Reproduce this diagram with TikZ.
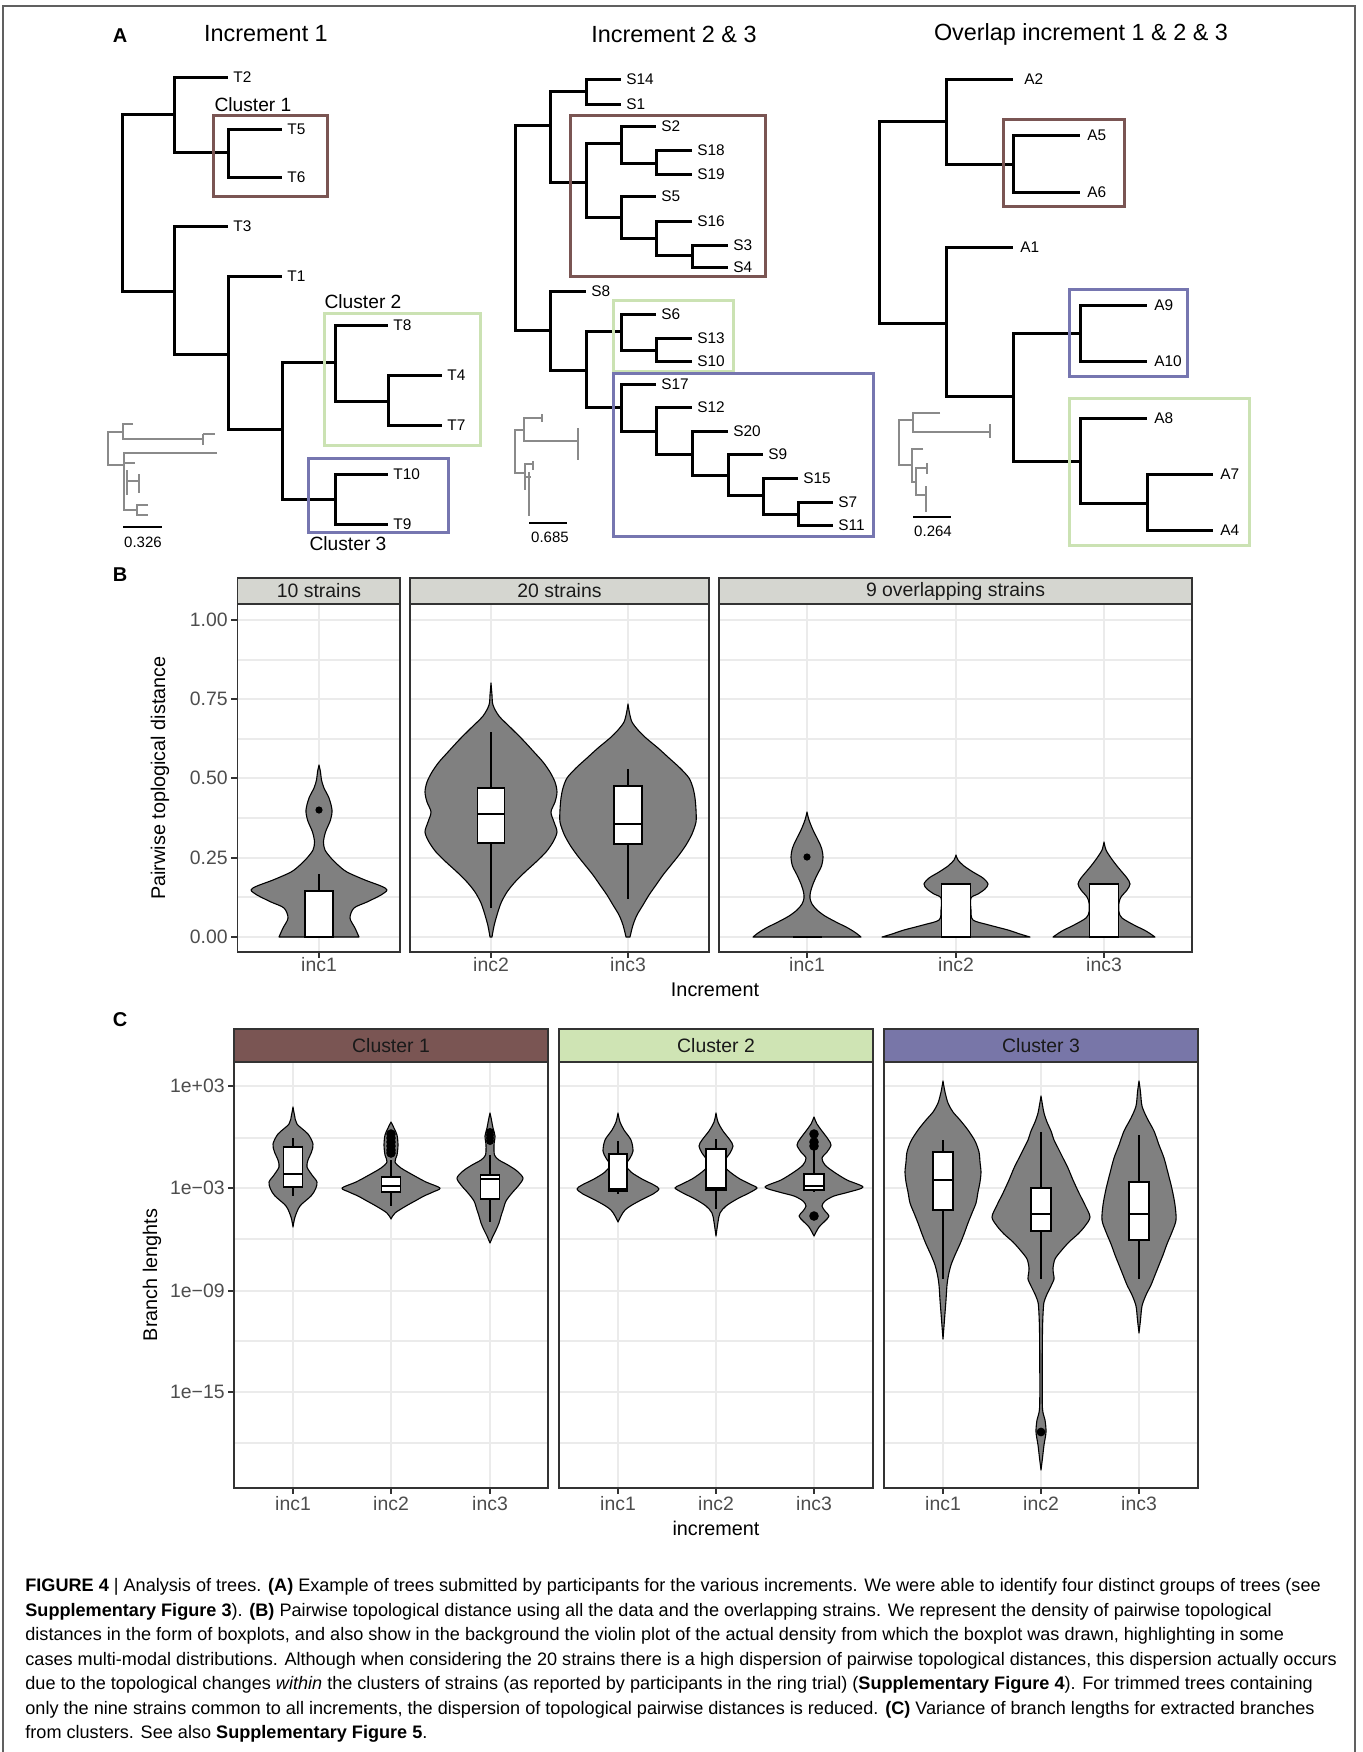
\documentclass[tikz,border=0pt]{standalone}
\usepackage{fontspec}
\setmainfont{Liberation Sans}
\newfontfamily\capfont{Liberation Sans}
\definecolor{cbrown}{HTML}{7A5553}
\definecolor{cgreen}{HTML}{CBE2B3}
\definecolor{cblue}{HTML}{7676B0}
\definecolor{sbrown}{HTML}{7A5553}
\definecolor{sgreen}{HTML}{CFE4B4}
\definecolor{sblue}{HTML}{7876A8}
\definecolor{gridc}{HTML}{EBEBEB}
\definecolor{vgray}{HTML}{808080}
\definecolor{minigray}{HTML}{8A8A8A}
\definecolor{g20}{HTML}{333333}
\definecolor{g10}{HTML}{1A1A1A}
\definecolor{g30}{HTML}{4D4D4D}
\definecolor{g85}{HTML}{D5D6D0}
\definecolor{frm}{HTML}{606060}
\newcommand\gfont{\fontsize{9.7}{11.5}\selectfont}
\newcommand\vln[2]{%
  \gdef\vR{}\gdef\vL{}%
  \foreach \yy/\ww in {#2}{%
    \pgfmathsetmacro\xr{#1+\ww}%
    \pgfmathsetmacro\xl{#1-\ww}%
    \xdef\vR{\vR(\xr,\yy)}%
    \xdef\vL{(\xl,\yy)\vL}%
  }%
  \edef\vtmp{\noexpand\filldraw[vio] plot[smooth,tension=0.5] coordinates {\vR} -- plot[smooth,tension=0.5] coordinates {\vL} -- cycle;}%
  \vtmp
}
\newcommand\bxp[7]{%
  \draw[whk] (#1,#6) -- (#1,#3);
  \draw[whk] (#1,#4) -- (#1,#7);
  \filldraw[bxs] ({#1-#2},#3) rectangle ({#1+#2},#4);
  \draw[medl] ({#1-#2},#5) -- ({#1+#2},#5);
}
\begin{document}
\begin{tikzpicture}[x=0.5pt,y=-0.5pt,
  br/.style={line width=1.5pt},
  cbox/.style={line width=1.5pt},
  leaf/.style={anchor=west, inner sep=0pt, xshift=2.5pt, font=\fontsize{7.7}{9}\selectfont},
  ttl/.style={inner sep=0pt, font=\fontsize{11.7}{14}\selectfont},
  clab/.style={inner sep=0pt, font=\fontsize{9.6}{11}\selectfont},
  plab/.style={inner sep=0pt, font=\bfseries\fontsize{10}{12}\selectfont},
  mini/.style={draw=minigray, line width=0.75pt},
  sbar/.style={draw=black, line width=0.8pt},
  sclab/.style={inner sep=0pt, font=\fontsize{7.5}{9}\selectfont},
  gmaj/.style={draw=gridc, line width=0.9pt},
  gmin/.style={draw=gridc, line width=0.55pt},
  pbord/.style={draw=g20, line width=0.6pt},
  strip/.style={draw=g20, line width=0.6pt},
  stxt/.style={inner sep=0pt, text=g10, font=\gfont},
  tlab/.style={inner sep=0pt, text=g30, font=\gfont},
  atit/.style={inner sep=0pt, font=\fontsize{9.9}{12}\selectfont},
  vio/.style={fill=vgray, draw=black, line width=0.55pt, line join=round},
  bxs/.style={fill=white, draw=black, line width=0.65pt},
  medl/.style={draw=black, line width=1.3pt},
  whk/.style={draw=black, line width=0.65pt},
  tickm/.style={draw=g20, line width=0.6pt},
  captxt/.style={anchor=base west, inner sep=0pt, font=\capfont\fontsize{9.05}{10}\selectfont}]
\useasboundingbox (0,0) rectangle (1362,1752);
\fill[white] (0,0) rectangle (1362,1752);
\draw[frm, line width=0.6pt] (3,1752) -- (3,6) -- (1355,6) -- (1355,1752);

% ---------------- Panel A ----------------
\node[plab] (labA) at (120,36) {A};
\node[ttl] (ttl1) at (266,34) {Increment 1};
\node[ttl] (ttl2) at (674,34) {Increment 2 \& 3};
\node[ttl] (ttl3) at (1081,34) {Overlap increment 1 \& 2 \& 3};

% Tree 1
\foreach \n/\x/\y in {t1r/122/203, t1a/174/114, t1b/174/291, t1c/228/152, t1d/228/354, t1e/282/429, t1f/335/362, t1g/335/499, t1h/388/401,
  T2/228/77, T5/282/129, T6/282/177, T3/228/226, T1/282/276, T8/388/325, T4/442/375, T7/442/425, T10/388/474, T9/388/524}
  \coordinate (\n) at (\x,\y);
\foreach \p/\c in {t1r/t1a, t1r/t1b, t1a/T2, t1a/t1c, t1c/T5, t1c/T6, t1b/T3, t1b/t1d, t1d/T1, t1d/t1e, t1e/t1f, t1e/t1g, t1f/T8, t1f/t1h, t1h/T4, t1h/T7, t1g/T10, t1g/T9}
  \draw[br] (\p) |- (\c);
\foreach \n in {T2,T5,T6,T3,T1,T8,T4,T7,T10,T9}
  \node[leaf] (l\n) at (\n) {\n};
\draw[cbox, cbrown] (213,115) rectangle (327,196);
\draw[cbox, cgreen] (324,313) rectangle (480,445);
\draw[cbox, cblue] (308,458) rectangle (448,532);
\node[clab] (cl1) at (253,105) {Cluster 1};
\node[clab] (cl2) at (363,302) {Cluster 2};
\node[clab] (cl3) at (348,544) {Cluster 3};
% mini tree 1
\draw[mini] (123,432) -- (108,432) -- (108,465) -- (124,465);
\draw[mini] (133,424) -| (123,439) -- (203,439);
\draw[mini] (203,434) -- (203,445);
\draw[mini] (203,434) -- (215,434);
\draw[mini] (217,453) -- (124,453) -- (124,510) -- (137,510);
\draw[mini] (124,463) -- (135,463);
\draw[mini] (126,481) -- (139,481);
\draw[mini] (139,474) -- (139,493);
\draw[mini] (127,470) -- (127,495);
\draw[mini] (148,505) -| (137,515) -- (148,515);
\draw[sbar] (123,527) -- (162,527);
\node[sclab] (sc1) at (143,542) {0.326};

% Tree 2
\foreach \n/\x/\y in {t2r/515/228, t2u/550/125, t2l/550/330, t2v/586/91, t2w/586/182, S14/621/79, S1/621/104, t2x1/621/143, t2x2/621/217, S2/656/126, t2x3/656/163, S18/692/150, S19/692/174, S5/656/196, t2x4/656/238, S16/692/221, t2x5/692/255, S3/728/245, S4/728/267, S8/586/291, t2y1/586/370, t2y2/621/331, t2y3/621/407, S6/656/314, t2y4/656/350, S13/692/338, S10/692/361, S17/656/384, t2y5/656/431, S12/692/407, t2y6/692/454, S20/728/431, t2y7/728/475, S9/763/454, t2y8/763/495, S15/798/478, t2y9/798/514, S7/833/502, S11/833/525}
  \coordinate (\n) at (\x,\y);
\foreach \p/\c in {t2r/t2u, t2r/t2l, t2u/t2v, t2u/t2w, t2v/S14, t2v/S1, t2w/t2x1, t2w/t2x2, t2x1/S2, t2x1/t2x3, t2x3/S18, t2x3/S19, t2x2/S5, t2x2/t2x4, t2x4/S16, t2x4/t2x5, t2x5/S3, t2x5/S4, t2l/S8, t2l/t2y1, t2y1/t2y2, t2y1/t2y3, t2y2/S6, t2y2/t2y4, t2y4/S13, t2y4/S10, t2y3/S17, t2y3/t2y5, t2y5/S12, t2y5/t2y6, t2y6/S20, t2y6/t2y7, t2y7/S9, t2y7/t2y8, t2y8/S15, t2y8/t2y9, t2y9/S7, t2y9/S11}
  \draw[br] (\p) |- (\c);
\foreach \n in {S14,S1,S2,S18,S19,S5,S16,S3,S4,S8,S6,S13,S10,S17,S12,S20,S9,S15,S7,S11}
  \node[leaf] (l\n) at (\n) {\n};
\draw[cbox, cbrown] (570,115) rectangle (765,276);
\draw[cbox, cgreen] (613,300) rectangle (733,371);
\draw[cbox, cblue] (613,373) rectangle (873,536);
% mini tree 2
\draw[mini] (524,430) -- (515,430) -- (515,473) -- (525,473);
\draw[mini] (542,418) -| (524,441) -- (578,441);
\draw[mini] (542,414) -- (542,422);
\draw[mini] (578,428) -- (578,460);
\draw[mini] (533,464) -| (525,490);
\draw[mini] (533,461) -- (533,470);
\draw[mini] (525,477) -- (531,477);
\draw[mini] (529,472) -- (529,516);
\draw[sbar] (529,523) -- (567,523);
\node[sclab] (sc2) at (550,537) {0.685};

% Tree 3
\foreach \n/\x/\y in {t3r/879/222, t3p1/946/121, t3p2/946/323, A2/1013/79, t3q1/1013/164, A5/1080/135, A6/1080/192, A1/1013/247, t3q2/1013/396, t3q3/1080/333, t3q4/1080/461, A9/1147/305, A10/1147/361, A8/1147/418, t3q5/1147/503, A7/1213/474, A4/1213/530}
  \coordinate (\n) at (\x,\y);
\foreach \p/\c in {t3r/t3p1, t3r/t3p2, t3p1/A2, t3p1/t3q1, t3q1/A5, t3q1/A6, t3p2/A1, t3p2/t3q2, t3q2/t3q3, t3q2/t3q4, t3q3/A9, t3q3/A10, t3q4/A8, t3q4/t3q5, t3q5/A7, t3q5/A4}
  \draw[br] (\p) |- (\c);
\foreach \n in {A5,A6,A1,A9,A10,A8,A7,A4}
  \node[leaf, xshift=1pt] (l\n) at (\n) {\n};
\node[leaf, xshift=3pt] (lA2) at (A2) {A2};
\draw[cbox, cbrown] (1003,119) rectangle (1124,206);
\draw[cbox, cblue] (1069,289) rectangle (1187,376);
\draw[cbox, cgreen] (1069,398) rectangle (1249,545);
% mini tree 3
\draw[mini] (913,420) -- (899,420) -- (899,465) -- (912,465);
\draw[mini] (940,413) -| (913,432) -- (990,432);
\draw[mini] (990,424) -- (990,438);
\draw[mini] (923,449) -| (912,482) -- (916,482);
\draw[mini] (927,468) -| (916,495) -- (926,495);
\draw[mini] (927,463) -- (927,474);
\draw[mini] (926,486) -- (926,512);
\draw[sbar] (913,517) -- (951,517);
\node[sclab] (sc3) at (933,531) {0.264};

% ---------------- Panel B ----------------
\node[plab] (labB) at (120,575) {B};
\foreach \xa/\xb in {237.5/400, 410/709, 719/1192}{
  \fill[white] (\xa,604) rectangle (\xb,952);
  \foreach \yy in {660,739,818,897} \draw[gmin] (\xa,\yy) -- (\xb,\yy);
  \foreach \yy in {620,699,778,858,937} \draw[gmaj] (\xa,\yy) -- (\xb,\yy);
}
\foreach \xx in {319,491,628,807,956,1104} \draw[gmaj] (\xx,604) -- (\xx,952);
% violins
\vln{319}{765/0, 772/1.5, 780/2.5, 788/5, 798/10, 810/13, 820/11.5, 832/6.5, 842/4.5, 850/6, 858/12, 865/19, 872/28, 880/46, 886/62, 890/68, 895/62, 902/48, 908/35, 918/31, 928/36, 937/40}
\vln{491}{683/0, 695/1, 705/2, 716/8, 728/20, 740/32, 752/43, 762/52, 772/59, 782/64, 792/66, 802/64, 812/60, 822/63, 832/66, 842/62, 852/55, 862/45, 872/34, 882/24, 892/16, 903/10, 915/6, 926/3, 937/1}
\vln{628}{704/0, 713/1.5, 722/4, 730/10, 738/18, 748/30, 758/41, 768/52, 778/61, 788/65, 798/67, 810/68, 822/68, 834/64, 845/58, 855/51, 865/43, 875/35, 885/28, 895/21, 905/15, 915/9, 925/5, 937/2}
\vln{807}{812/0, 820/2, 830/6, 840/11, 848/14.5, 857/16, 866/14.5, 875/10, 884/6, 892/3.5, 898/3, 904/5, 910/10, 916/18, 922/29, 928/41, 933/49, 937/54}
\vln{956}{855/0, 860/2, 866/8, 872/17, 878/27, 884/32, 889/29, 894/22, 898/15, 910/15, 920/17, 925/33, 930/52, 934/64, 937/74}
\vln{1104}{842/0, 850/2, 858/7, 866/13, 872/18, 878/23, 884/26, 890/23, 897/17, 903/15, 912/15, 918/18, 925/30, 931/42, 937/51}
% boxes
\bxp{319}{14}{891}{937}{891}{874}{937}
\fill (319,810) circle[radius=1.8pt];
\bxp{491}{13.5}{788}{843}{814}{732}{908}
\bxp{628}{14}{786}{844}{824}{769}{899}
\draw[medl] (793,937) -- (822,937);
\fill (807,857) circle[radius=1.8pt];
\bxp{956}{14.5}{884}{937}{937}{884}{937}
\bxp{1104}{14.5}{884}{937}{937}{884}{937}
% borders & strips
\foreach \xa/\xb in {237.5/400, 410/709, 719/1192}{
  \draw[pbord] (\xa,604) rectangle (\xb,952);
  \filldraw[strip, fill=g85] (\xa,578) rectangle (\xb,604);
}
\node[stxt] (sb1) at (319,591) {10 strains};
\node[stxt] (sb2) at (559.5,591) {20 strains};
\node[stxt] (sb3) at (955.5,591) {9 overlapping strains};
\foreach \yy/\lab [count=\i] in {620/1.00, 699/0.75, 778/0.50, 858/0.25, 937/0.00}{
  \draw[tickm] (231,\yy) -- (237.5,\yy);
  \node[tlab, anchor=east] (byt\i) at (228,\yy) {\lab};
}
\foreach \xx/\lab [count=\i] in {319/inc1, 491/inc2, 628/inc3, 807/inc1, 956/inc2, 1104/inc3}{
  \draw[tickm] (\xx,952) -- (\xx,958);
  \node[tlab] (bxt\i) at (\xx,965) {\lab};
}
\node[atit, rotate=90] (bytt) at (160,778) {Pairwise toplogical distance};
\node[atit] (bxtt) at (715,990) {Increment};

% ---------------- Panel C ----------------
\node[plab] (labC) at (120,1020) {C};
\foreach \xa/\xb in {234/548, 559/873, 884/1198}{
  \fill[white] (\xa,1062) rectangle (\xb,1488);
  \foreach \yy in {1138,1239,1341,1443} \draw[gmin] (\xa,\yy) -- (\xb,\yy);
  \foreach \yy in {1086,1188,1291,1392} \draw[gmaj] (\xa,\yy) -- (\xb,\yy);
}
\foreach \xx in {293,391,490,618,716,814,943,1041,1139} \draw[gmaj] (\xx,1062) -- (\xx,1488);
% cluster 1
\vln{293}{1107/0, 1115/1.5, 1124/4, 1134/15, 1144/20, 1152/18.5, 1160/15, 1167/14, 1175/19, 1182/24, 1189/22.5, 1196/18, 1206/7, 1217/2, 1227/0}
\bxp{293}{9.2}{1147}{1187}{1174}{1138}{1196}
\vln{391}{1122/0, 1128/3, 1135/6, 1145/7, 1155/6, 1162/4, 1168/10, 1175/22, 1182/35, 1188/49, 1192/42, 1196/33, 1201/24, 1206/15, 1213/4, 1219/0}
\bxp{391}{9.6}{1177}{1192}{1186}{1160}{1206}
\foreach \yy in {1134,1138,1142,1146,1150,1153} \fill (391,\yy) circle[radius=2.4pt];
\vln{490}{1113/0, 1120/1.5, 1128/3, 1136/5, 1145/4, 1155/4.5, 1160/9, 1165/18, 1171/27, 1178/33, 1185/29, 1193/22, 1201/16, 1210/13, 1216/11, 1223/9, 1230/6, 1236/3, 1243/0}
\bxp{490}{9.8}{1175}{1199}{1179}{1155}{1222}
\foreach \yy in {1132,1135,1138,1141} \fill (490,\yy) circle[radius=2pt];
% cluster 2
\vln{618}{1113/0, 1122/2, 1130/6, 1140/13, 1151/15, 1158/12, 1165/8, 1172/13, 1179/24, 1185/36, 1189/41, 1194/35, 1199/25, 1205/14, 1210/7, 1216/3, 1222/0}
\bxp{618}{9}{1154}{1191}{1189}{1141}{1194}
\vln{716}{1113/0, 1122/2, 1131/7, 1140/14, 1146/17, 1153/14, 1160/9, 1166/8, 1172/14, 1179/24, 1185/36, 1188/41, 1193/33, 1199/21, 1206/10, 1213/4, 1222/2, 1236/0}
\bxp{716}{10}{1149}{1190}{1188}{1139}{1209}
\vln{814}{1117/0, 1124/3, 1131/8, 1139/14, 1145/17, 1152/13, 1158/8, 1165/11, 1172/20, 1180/33, 1187/49, 1192/35, 1196/20, 1201/11, 1206/8, 1211/11, 1216/15, 1221/11, 1227/5, 1236/0}
\bxp{814}{10}{1174}{1190}{1186}{1147}{1192}
\foreach \yy in {1134,1142,1146,1216} \fill (814,\yy) circle[radius=2.4pt];
% cluster 3
\vln{943}{1081/0, 1092/2, 1103/5, 1112/10, 1120/17, 1130/25, 1141/32, 1152/36, 1162/37, 1172/38, 1182/37, 1192/35, 1203/33, 1213/29, 1223/25, 1234/21, 1244/17, 1255/12, 1265/8, 1275/5.5, 1285/4, 1300/3, 1313/2, 1326/1, 1339/0}
\bxp{943}{10}{1152}{1210}{1180}{1140}{1279}
\vln{1041}{1096/0, 1105/1.5, 1113/3, 1122/6, 1131/10, 1140/13, 1148/17, 1158/22, 1168/27, 1180/32, 1193/38, 1205/44, 1217/49, 1226/44, 1234/37, 1242/28, 1251/20, 1259/14, 1268/12, 1274/12.5, 1279/13, 1286/10, 1292/7, 1299/4, 1306/2.5, 1330/1.5, 1380/1.2, 1409/1.5, 1420/4, 1432/5, 1445/3, 1458/1.5, 1470/0}
\bxp{1041}{10}{1188}{1231}{1214}{1132}{1279}
\fill (1041,1432) circle[radius=2.2pt];
\vln{1139}{1081/0, 1092/1.5, 1106/3, 1118/8, 1131/15, 1145/20, 1158/25, 1173/29, 1189/33, 1205/36, 1220/37, 1232/33, 1244/28, 1255/24, 1265/20, 1275/16, 1285/12, 1295/7, 1306/3, 1320/1.5, 1333/0}
\bxp{1139}{10}{1182}{1240}{1214}{1135}{1279}
% borders & strips
\foreach \xa/\xb/\cc in {234/548/sbrown, 559/873/sgreen, 884/1198/sblue}{
  \draw[pbord] (\xa,1062) rectangle (\xb,1488);
  \filldraw[strip, fill=\cc] (\xa,1029) rectangle (\xb,1062);
}
\node[stxt] (sc1t) at (391,1046) {Cluster 1};
\node[stxt] (sc2t) at (716,1046) {Cluster 2};
\node[stxt] (sc3t) at (1041,1046) {Cluster 3};
\foreach \yy/\lab [count=\i] in {1086/1e+03, 1188/1e−03, 1291/1e−09, 1392/1e−15}{
  \draw[tickm] (228,\yy) -- (234,\yy);
  \node[tlab, anchor=east] (cyt\i) at (225,\yy) {\lab};
}
\foreach \xx/\lab [count=\i] in {293/inc1, 391/inc2, 490/inc3, 618/inc1, 716/inc2, 814/inc3, 943/inc1, 1041/inc2, 1139/inc3}{
  \draw[tickm] (\xx,1488) -- (\xx,1494);
  \node[tlab] (cxt\i) at (\xx,1504) {\lab};
}
\node[atit, rotate=90] (cytt) at (152,1275) {Branch lenghts};
\node[atit] (cxtt) at (716,1528) {increment};

% ---------------- Caption ----------------
\node[captxt] (cap1) at (25,1591) {\textbf{FIGURE 4} | Analysis of trees. \textbf{(A)} Example of trees submitted by participants for the various increments. We were able to identify four distinct groups of trees (see};
\node[captxt] (cap2) at (25,1616) {\textbf{Supplementary Figure 3}). \textbf{(B)} Pairwise topological distance using all the data and the overlapping strains. We represent the density of pairwise topological};
\node[captxt] (cap3) at (25,1640) {distances in the form of boxplots, and also show in the background the violin plot of the actual density from which the boxplot was drawn, highlighting in some};
\node[captxt] (cap4) at (25,1665) {cases multi-modal distributions. Although when considering the 20 strains there is a high dispersion of pairwise topological distances, this dispersion actually occurs};
\node[captxt] (cap5) at (25,1689) {due to the topological changes \textit{within} the clusters of strains (as reported by participants in the ring trial) (\textbf{Supplementary Figure 4}). For trimmed trees containing};
\node[captxt] (cap6) at (25,1714) {only the nine strains common to all increments, the dispersion of topological pairwise distances is reduced. \textbf{(C)} Variance of branch lengths for extracted branches};
\node[captxt] (cap7) at (25,1738) {from clusters. See also \textbf{Supplementary Figure 5}.};
\end{tikzpicture}
\end{document}
